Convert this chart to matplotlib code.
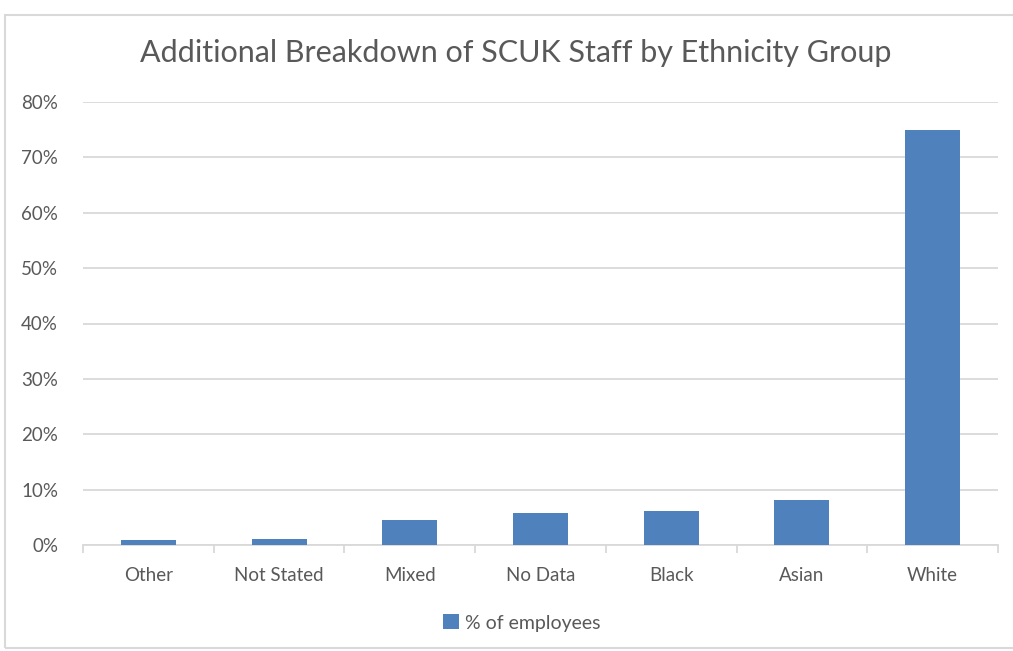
import matplotlib.pyplot as plt
from matplotlib.patches import Rectangle
from matplotlib.ticker import PercentFormatter

# Data
groups = ["Other", "Not Stated", "Mixed", "No Data", "Black", "Asian", "White"]
pct_employees = [0.85, 1.1, 4.5, 5.8, 6.05, 8.2, 75.0]

text_col = "#595959"
grid_col = "#d9d9d9"
bar_col = "#4f81bd"

plt.rcParams['font.family'] = ['Lato', 'DejaVu Sans']

fig = plt.figure(figsize=(10.13, 6.51), dpi=100)
ax = fig.add_axes([83 / 1013, 1 - 545 / 651, (998 - 83) / 1013, (545 - 102) / 651])

ax.bar(groups, pct_employees, width=0.42, color=bar_col, label="% of employees", zorder=3)

ax.set_ylim(0, 80)
ax.set_xlim(-0.5, len(groups) - 0.5)
ax.set_yticks(range(0, 81, 10))
ax.yaxis.set_major_formatter(PercentFormatter(decimals=0))
ax.grid(axis='y', color=grid_col, linewidth=1.3, zorder=0)

for s in ['top', 'right', 'left']:
    ax.spines[s].set_visible(False)
ax.spines['bottom'].set_color(grid_col)
ax.spines['bottom'].set_linewidth(1.3)

# category separator ticks on the x axis
ax.set_xticks([i - 0.5 for i in range(len(groups) + 1)], minor=True)
ax.tick_params(axis='x', which='minor', length=6, color=grid_col, width=1.3)
ax.tick_params(axis='x', which='major', length=0, pad=16, labelsize=13.5, labelcolor=text_col)
ax.tick_params(axis='y', length=0, pad=18, labelsize=13.5, labelcolor=text_col)

fig.text(516 / 1013, 1 - 53 / 651, "Additional Breakdown of SCUK Staff by Ethnicity Group",
         ha='center', va='center', fontsize=22, color=text_col)

leg = fig.legend(loc='center', bbox_to_anchor=(0.515, 1 - 623 / 651), frameon=False,
                 fontsize=14, handlelength=0.8, handleheight=0.8, handletextpad=0.3)
for t in leg.get_texts():
    t.set_color(text_col)

# outer chart border
fig.patches.append(Rectangle((5 / 1013, 0.005), 1.2, 1 - 15 / 651 - 0.005,
                             transform=fig.transFigure, fill=False,
                             edgecolor=grid_col, linewidth=1.5))

fig.savefig("out.png", dpi=100)
